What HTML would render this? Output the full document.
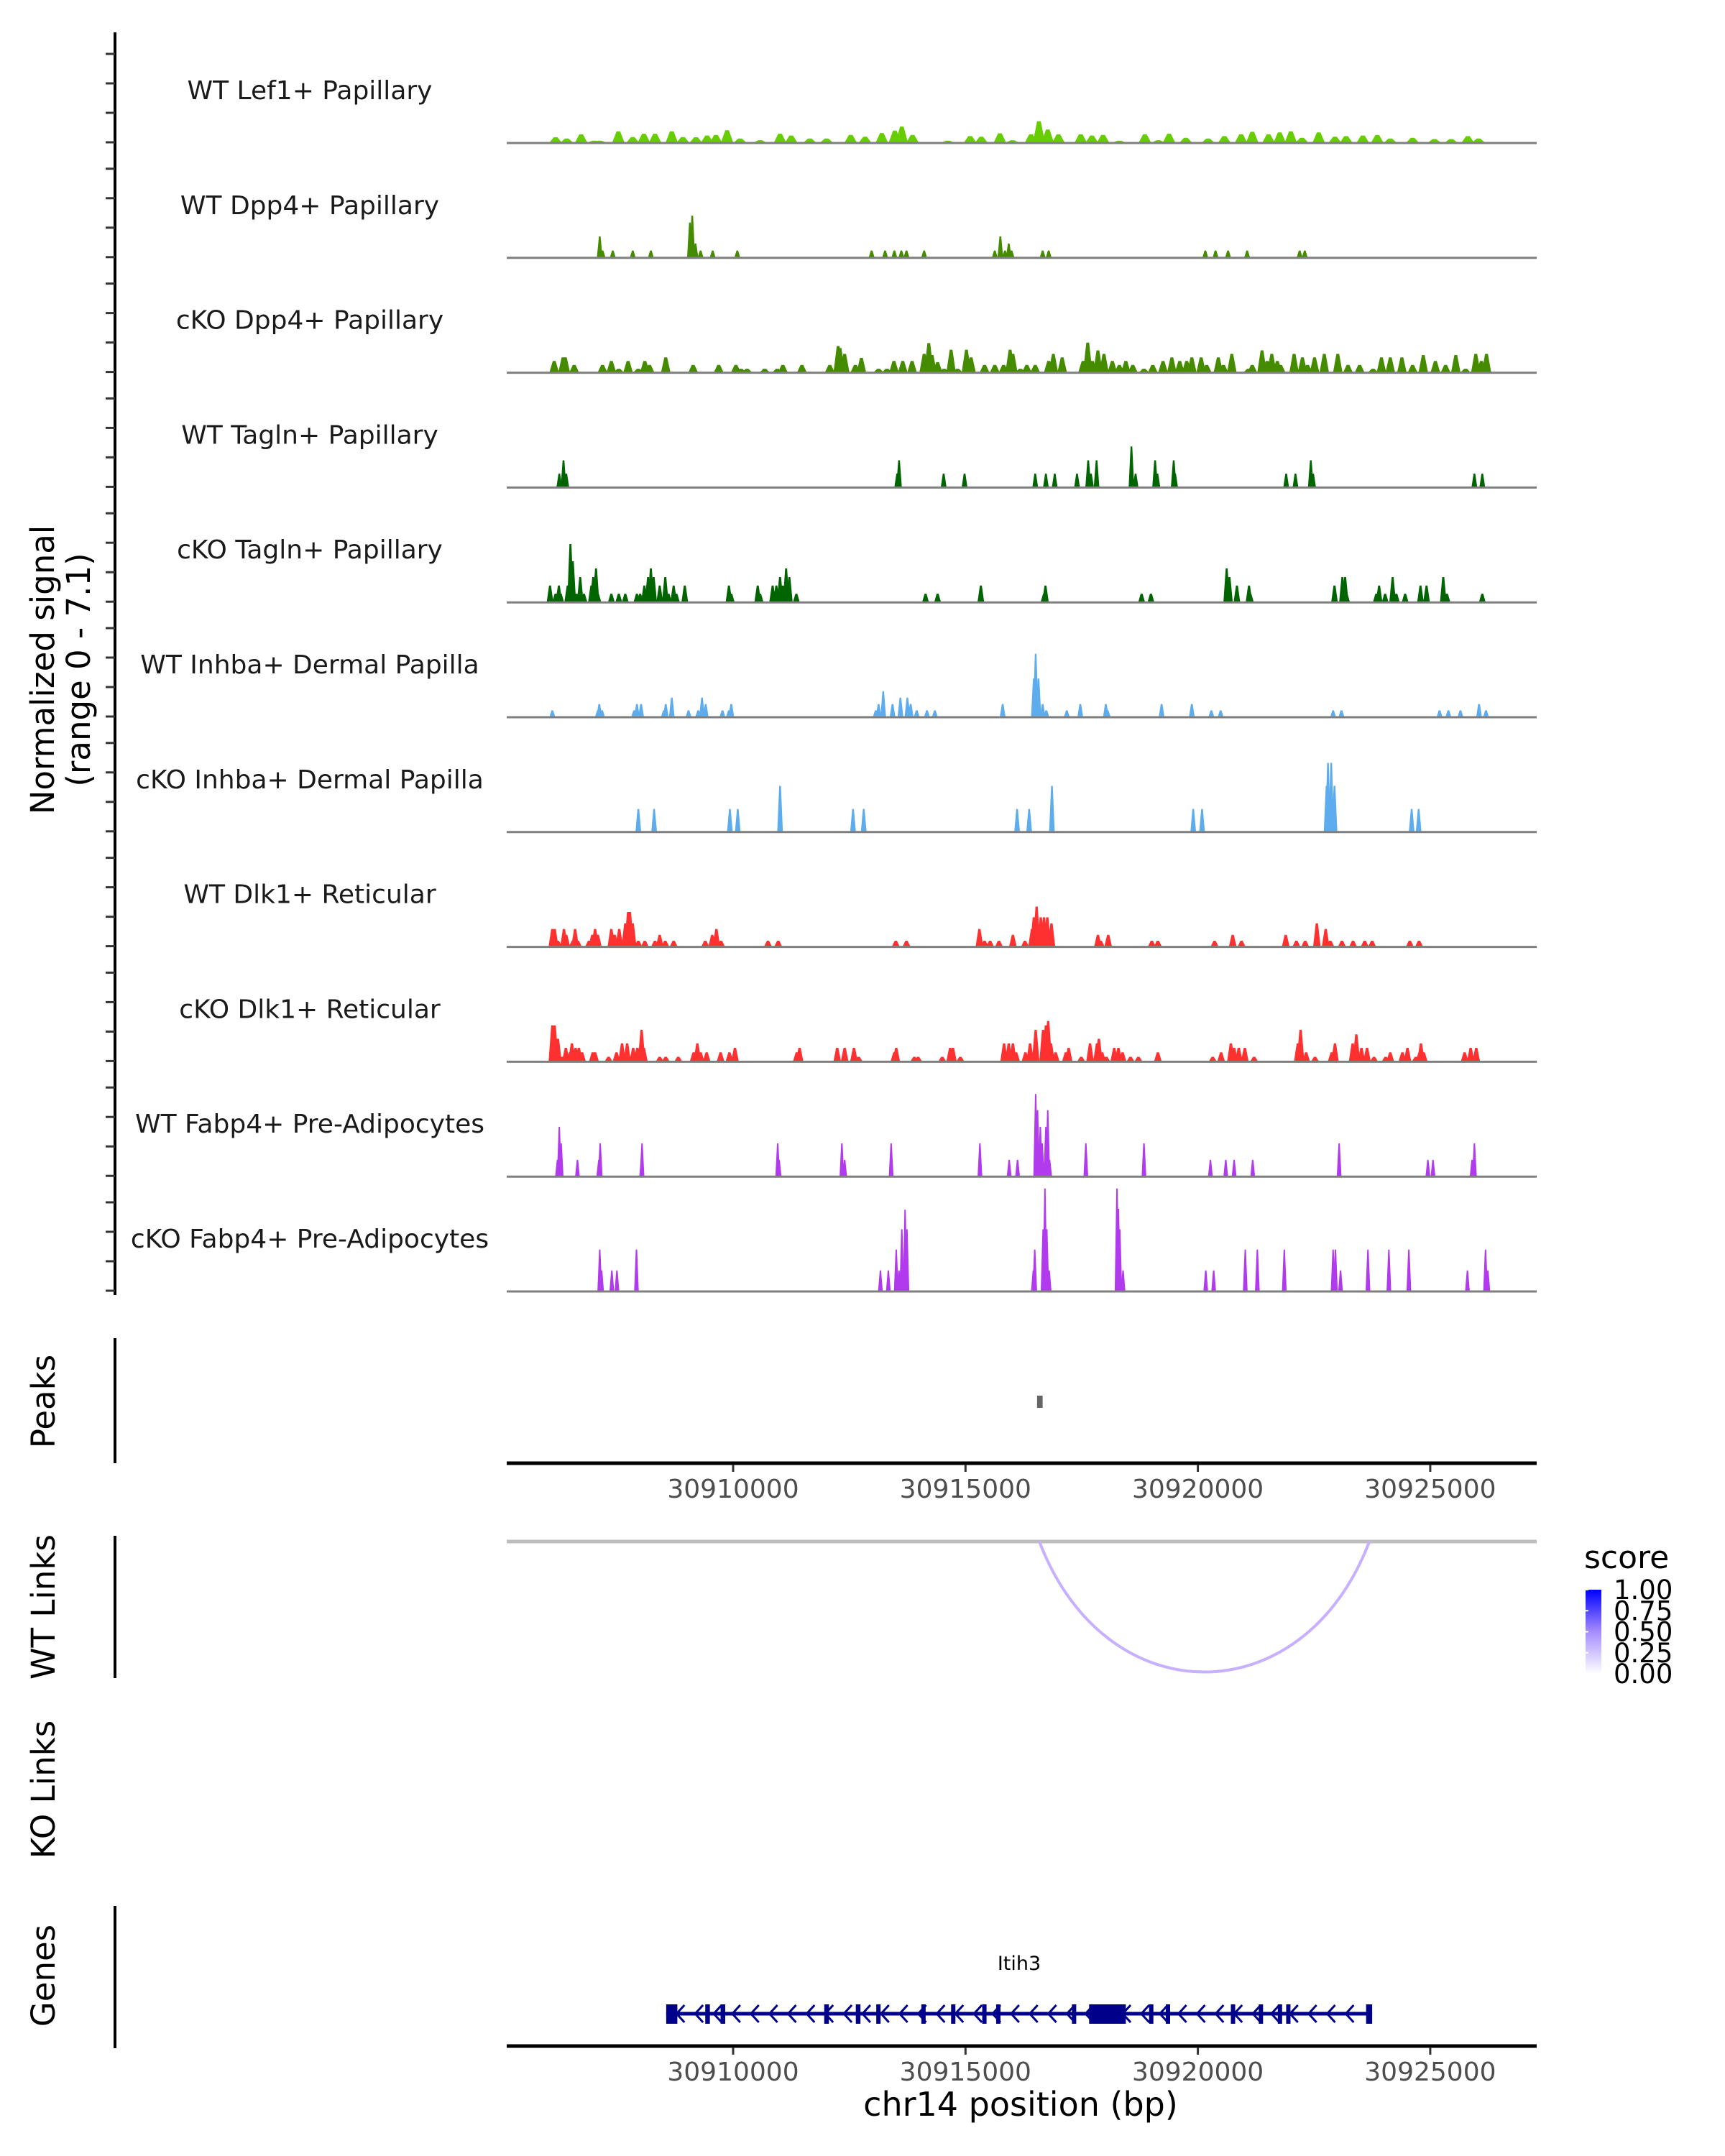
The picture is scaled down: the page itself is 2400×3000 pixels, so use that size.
<!DOCTYPE html>
<html><head><meta charset="utf-8">
<style>
html,body{margin:0;padding:0;background:#fff;}
svg{display:block;font-family:"DejaVu Sans","Liberation Sans",sans-serif;}
</style></head>
<body>
<svg id="chart" width="2400" height="3000" viewBox="0 0 2400 3000" xmlns="http://www.w3.org/2000/svg">
<rect x="0" y="0" width="2400" height="3000" fill="#fff"/>
<g id="tracks"></g>
<g id="axes"></g>
<text x="63" y="932" transform="rotate(-90 63 932)" text-anchor="middle" dominant-baseline="middle" font-size="45" fill="#000">Normalized signal</text>
<text x="113" y="932" transform="rotate(-90 113 932)" text-anchor="middle" dominant-baseline="middle" font-size="45" fill="#000">(range 0 - 7.1)</text>
<text x="64" y="1950" transform="rotate(-90 64 1950)" text-anchor="middle" dominant-baseline="middle" font-size="45" fill="#000">Peaks</text>
<text x="64" y="2236" transform="rotate(-90 64 2236)" text-anchor="middle" dominant-baseline="middle" font-size="45" fill="#000">WT Links</text>
<text x="64" y="2490" transform="rotate(-90 64 2490)" text-anchor="middle" dominant-baseline="middle" font-size="45" fill="#000">KO Links</text>
<text x="64" y="2749" transform="rotate(-90 64 2749)" text-anchor="middle" dominant-baseline="middle" font-size="45" fill="#000">Genes</text>
<text x="1420" y="2944" text-anchor="middle" font-size="46" fill="#000">chr14 position (bp)</text>
<defs><linearGradient id="scoreGrad" x1="0" y1="1" x2="0" y2="0"><stop offset="0" stop-color="#ffffff"/><stop offset="0.5" stop-color="#a58cff"/><stop offset="1" stop-color="#0000ff"/></linearGradient></defs>
<text x="2204" y="2182" font-size="44" fill="#000">score</text>
<rect x="2206" y="2212" width="22" height="117" fill="url(#scoreGrad)"/>
<g id="legend"></g>
</svg>
<script>
// ---------- data (positions in kb offset from chr14:30,900,000; heights in signal units) ----------
const trackNames = ["WT Lef1+ Papillary","WT Dpp4+ Papillary","cKO Dpp4+ Papillary","WT Tagln+ Papillary","cKO Tagln+ Papillary","WT Inhba+ Dermal Papilla","cKO Inhba+ Dermal Papilla","WT Dlk1+ Reticular","cKO Dlk1+ Reticular","WT Fabp4+ Pre-Adipocytes","cKO Fabp4+ Pre-Adipocytes"];
const trackColors = ["#66CD00","#458B00","#458B00","#006400","#006400","#5CACEE","#5CACEE","#FF3030","#FF3030","#B23AEE","#B23AEE"];

const lef1Pos = [6.18,6.42,6.73,7.01,7.13,7.53,7.84,8.08,8.32,8.68,8.92,9.20,9.44,9.63,9.87,10.15,10.58,11.01,11.25,11.65,12.01,12.53,12.84,13.20,13.48,13.63,13.86,14.62,15.10,15.34,15.74,16.01,16.41,16.58,16.77,17.00,17.48,17.72,17.96,18.31,18.86,19.15,19.38,19.74,20.22,20.57,20.93,21.17,21.52,21.76,22.00,22.24,22.60,22.95,23.19,23.55,23.86,24.14,24.62,25.09,25.45,25.81,26.04];
const lef1Ht = [.34,.26,.54,.11,.11,.74,.35,.58,.58,.74,.35,.34,.46,.50,.82,.26,.14,.58,.46,.26,.26,.50,.38,.63,.79,1.07,.50,.11,.42,.38,.61,.14,.54,1.43,.87,.54,.54,.46,.50,.11,.54,.14,.58,.30,.26,.42,.54,.71,.54,.67,.74,.30,.67,.38,.42,.46,.50,.26,.30,.22,.22,.42,.26];

const wtDpp4Pos = [7.13,7.19,7.41,7.84,8.23,9.07,9.12,9.19,9.30,9.56,10.09,12.98,13.27,13.47,13.62,13.73,14.11,15.63,15.75,15.85,15.93,15.99,16.66,16.79,20.16,20.38,20.65,21.06,22.19,22.30];
const wtDpp4Ht = [1.41,.45,.45,.45,.45,2.34,2.82,.93,.45,.45,.45,.45,.45,.45,.45,.45,.45,.45,1.41,.45,.93,.45,.45,.45,.45,.45,.45,.45,.45,.45];

const koDpp4Pos = [6.15,6.34,6.39,6.58,7.19,7.38,7.54,7.74,7.96,8.10,8.20,8.55,9.14,9.69,10.06,10.17,10.30,10.68,10.95,11.07,11.48,12.08,12.26,12.30,12.40,12.63,12.76,13.13,13.31,13.46,13.65,13.85,14.11,14.21,14.28,14.40,14.54,14.69,14.83,15.02,15.12,15.41,15.63,15.82,15.96,16.02,16.18,16.32,16.50,16.79,16.89,17.08,17.53,17.63,17.73,17.85,17.98,18.16,18.31,18.45,18.60,18.84,19.03,19.25,19.44,19.61,19.76,19.87,20.07,20.19,20.44,20.55,20.73,21.09,21.17,21.38,21.49,21.59,21.71,21.78,22.07,22.25,22.36,22.51,22.72,23.01,23.23,23.48,23.77,23.95,24.14,24.39,24.62,24.85,25.11,25.33,25.55,25.76,25.98,26.10,26.21];
const koDpp4Ht = [.75,.99,.99,.48,.48,.75,.22,.75,.22,.75,.48,.99,.48,.48,.48,.22,.22,.22,.22,.48,.48,.48,1.76,1.63,1.23,.48,.96,.22,.22,.75,.75,.75,1.23,1.96,1.15,.67,.22,1.51,.22,1.51,.99,.48,.48,.48,1.51,1.23,.22,.48,.48,.75,1.23,.99,.75,1.99,.75,1.47,1.23,.75,.48,.75,.48,.22,.48,.75,.99,.75,.75,.99,.99,.48,.99,.48,1.23,.22,.48,1.47,.75,1.23,.75,.48,1.23,.99,.48,.99,1.23,1.23,.48,.48,.22,.99,.99,.99,.48,1.15,.75,.48,1.15,.22,1.23,.75,1.23];

const wtTaglnPos = [6.26,6.35,6.41,13.53,13.57,14.53,14.98,16.50,16.73,16.92,17.40,17.64,17.70,17.82,18.57,18.66,19.08,19.13,19.48,19.51,21.90,22.10,22.43,22.48,25.95,26.12];
const wtTaglnHt = [.9,1.8,.9,.9,1.8,.9,.9,.9,.9,.9,.9,1.8,.9,1.8,2.74,.9,1.8,.9,1.8,.9,.9,.9,1.8,.9,.9,.9];

const koTaglnPos = [6.06,6.18,6.25,6.29,6.44,6.50,6.55,6.63,6.71,6.79,6.95,6.99,7.05,7.09,7.38,7.54,7.68,7.93,8.00,8.09,8.17,8.23,8.29,8.42,8.54,8.61,8.72,8.78,8.96,9.91,9.96,10.53,10.58,10.85,10.93,11.01,11.07,11.14,11.21,11.36,14.14,14.40,15.33,16.69,16.72,18.79,18.99,20.62,20.68,20.84,21.10,21.13,22.94,23.11,23.17,23.20,23.84,23.90,24.03,24.19,24.27,24.46,24.79,24.92,25.28,25.36,26.12];
const koTaglnHt = [1.1,.54,1.1,.54,1.1,3.91,2.74,.54,1.67,.54,1.1,1.67,2.26,.54,.54,.54,.54,.54,.54,1.1,1.67,2.26,1.67,1.1,1.67,.54,1.1,.54,1.1,1.1,.54,1.1,.54,1.1,1.1,1.67,1.1,2.26,1.67,.54,.54,.54,1.1,.54,1.1,.54,.54,2.26,1.67,1.1,1.1,.54,1.1,1.67,1.67,.54,.54,1.1,.54,1.67,.54,.54,1.1,1.1,1.67,.54,.54];

const wtInhbaPos = [6.11,7.09,7.12,7.18,7.87,7.93,8.02,8.51,8.55,8.68,9.04,9.25,9.33,9.41,9.77,9.91,9.96,13.07,13.13,13.23,13.43,13.60,13.75,13.82,13.95,14.17,14.34,15.80,16.47,16.51,16.57,16.66,16.74,17.18,17.47,18.02,18.06,19.22,19.87,20.29,20.49,22.91,23.09,25.20,25.39,25.65,26.05,26.20];
const wtInhbaHt = [.42,.42,.85,.42,.42,.85,.85,.42,.85,1.28,.42,.42,1.28,.85,.42,.42,.85,.42,.85,1.71,.85,1.28,1.28,.85,.42,.42,.42,.85,2.58,4.26,2.58,.85,.42,.42,.85,.85,.42,.85,.85,.42,.42,.42,.42,.42,.42,.42,.85,.42];

const koInhbaPos = [7.96,8.30,9.93,10.10,11.01,12.58,12.81,16.11,16.37,16.86,19.90,20.09,22.77,22.80,22.87,22.94,24.60,24.75];
const koInhbaHt = [1.52,1.52,1.52,1.52,3.09,1.52,1.52,1.52,1.52,3.09,1.52,1.52,3.09,4.65,4.65,3.09,1.52,1.52];

const wtDlk1Pos = [6.11,6.16,6.23,6.36,6.41,6.55,6.60,6.66,6.90,6.97,7.03,7.09,7.38,7.45,7.55,7.68,7.74,7.78,7.84,7.96,8.10,8.32,8.42,8.54,8.72,9.40,9.55,9.64,9.74,10.75,10.97,13.50,13.73,15.30,15.41,15.53,15.72,16.02,16.28,16.43,16.47,16.53,16.62,16.69,16.76,16.85,17.85,17.91,18.07,19.01,19.14,20.36,20.75,20.94,21.89,22.12,22.31,22.56,22.75,22.85,23.10,23.34,23.59,23.75,24.56,24.76];
const wtDlk1Ht = [1.17,1.17,.37,1.17,.77,.37,1.17,.37,.37,.77,1.17,.77,1.17,.77,1.17,1.55,2.32,2.32,1.55,.37,.37,.37,.77,.37,.37,.37,.77,1.17,.37,.37,.37,.37,.37,1.17,.37,.37,.37,.77,.37,1.17,1.96,2.69,1.96,1.96,1.96,1.55,.77,.37,.77,.37,.37,.37,.77,.37,.77,.37,.37,1.55,1.17,.37,.37,.37,.37,.37,.37,.37];

const koDlk1Pos = [6.11,6.16,6.23,6.33,6.40,6.49,6.53,6.61,6.68,6.75,6.98,7.03,7.32,7.49,7.61,7.72,7.85,7.94,8.03,8.08,8.42,8.55,8.82,9.15,9.23,9.30,9.43,9.73,9.92,10.04,11.37,11.43,12.24,12.40,12.60,12.70,13.47,13.51,13.90,13.98,14.50,14.67,14.73,14.89,15.83,15.93,16.02,16.09,16.29,16.39,16.51,16.67,16.73,16.78,16.84,16.94,17.16,17.22,17.49,17.68,17.83,17.87,17.94,18.03,18.20,18.29,18.38,18.55,18.72,19.14,20.32,20.50,20.71,20.78,20.88,21.01,21.21,22.15,22.21,22.33,22.52,22.88,22.95,23.33,23.41,23.52,23.64,23.79,24.04,24.14,24.40,24.51,24.69,24.77,24.80,24.86,25.74,25.87,25.99];
const koDlk1Ht = [2.42,2.42,1.51,.29,.90,.59,1.20,.90,.90,.59,.59,.59,.29,.59,1.20,1.20,.90,.90,2.12,.90,.29,.29,.29,.59,1.20,.59,.59,.59,.59,.90,.59,.90,.90,.90,.90,.29,.59,.90,.29,.29,.29,.90,.90,.29,1.20,1.20,1.20,.59,.59,1.20,2.12,2.12,2.42,2.72,1.20,.59,.59,.90,.29,1.20,1.20,1.51,.59,.29,.90,.90,.59,.29,.29,.59,.29,.59,1.20,.90,.90,.90,.29,1.20,2.12,.59,.29,.59,1.20,1.20,1.81,.90,.90,.29,.29,.59,.59,.90,.29,.59,1.20,.59,.59,.90,.90];

const wtFabp4Pos = [6.22,6.26,6.30,6.65,7.11,7.14,8.03,8.04,10.96,10.99,12.34,12.40,13.40,15.31,15.94,16.12,16.51,16.55,16.61,16.65,16.73,16.77,16.81,17.59,18.84,20.27,20.60,20.78,21.18,23.04,24.95,25.06,25.90,25.95];
const wtFabp4Ht = [1.09,3.33,2.21,1.09,1.09,2.21,1.09,2.21,2.21,1.09,2.21,1.09,2.21,2.21,1.09,1.09,5.56,4.46,3.33,2.21,3.33,4.46,1.09,2.21,2.21,1.09,1.09,1.09,1.09,2.21,1.09,1.09,1.09,2.21];

const koFabp4Pos = [7.13,7.17,7.39,7.50,7.92,13.17,13.34,13.51,13.57,13.63,13.70,13.74,16.46,16.49,16.67,16.71,16.75,16.80,18.26,18.29,18.32,18.39,20.17,20.34,21.02,21.28,21.86,22.91,22.96,23.07,23.66,24.11,24.54,25.80,26.19,26.24];
const koFabp4Ht = [2.79,1.38,1.38,1.38,2.79,1.38,1.38,2.79,1.38,4.17,5.5,4.17,1.38,2.79,4.17,6.94,4.17,1.38,6.94,5.56,4.17,1.38,1.38,1.38,2.79,2.79,2.79,2.79,2.79,1.38,2.79,2.79,2.79,1.38,2.79,1.38];

const trackPos = [lef1Pos,wtDpp4Pos,koDpp4Pos,wtTaglnPos,koTaglnPos,wtInhbaPos,koInhbaPos,wtDlk1Pos,koDlk1Pos,wtFabp4Pos,koFabp4Pos];
const trackHt = [lef1Ht,wtDpp4Ht,koDpp4Ht,wtTaglnHt,koTaglnHt,wtInhbaHt,koInhbaHt,wtDlk1Ht,koDlk1Ht,wtFabp4Ht,koFabp4Ht];
const trackWidth = [0.13,0.06,0.10,0.06,0.07,0.06,0.06,0.08,0.08,0.05,0.05];

const xTickValues = [30910000,30915000,30920000,30925000];
const peakStarts = [16.54];
const peakEnds = [16.66];
const linkStart = [16.59];
const linkEnd = [23.69];
const linkScore = [0.25];
const geneStart = 8.56, geneEnd = 23.75;
const exonStart = [8.56,9.40,9.73,11.96,12.64,13.08,14.05,14.69,15.36,15.66,17.29,17.66,18.95,19.31,20.71,21.31,21.72,21.90,23.62];
const exonEnd = [8.80,9.50,9.83,12.06,12.74,13.12,14.12,14.77,15.44,15.74,17.37,18.45,19.03,19.39,20.79,21.39,21.78,21.98,23.75];
const legendValues = [1.00,0.75,0.50,0.25,0.00];

// ---------- scales ----------
const X0 = 705, X1 = 2138;
function xScale(kb){ return 1020 + (kb - 10) * 64.66; }
function xFromBp(bp){ return xScale((bp - 30900000)/1000); }
const UNIT = 20.5;
function baseY(i){ return 198 + 159.8*i; }
function yScale(i, v){ return baseY(i) - v*UNIT; }

const NS = "http://www.w3.org/2000/svg";
function mk(tag, attrs, parent){
  const e = document.createElementNS(NS, tag);
  for (const k in attrs) e.setAttribute(k, attrs[k]);
  parent.appendChild(e); return e;
}
const tracks = document.getElementById('tracks');
const axes = document.getElementById('axes');

// signal tracks
trackNames.forEach((name, i) => {
  const g = mk('g', {}, tracks);
  
  
  const lbl = mk('text', {x: 431, y: baseY(i) - 60, 'text-anchor': 'middle', 'font-size': 36, fill: '#1a1a1a'}, g);
  lbl.textContent = name;
  
  
  const pos = trackPos[i], ht = trackHt[i], w = trackWidth[i];
  pos.forEach((p, j) => {
    const b = baseY(i), t = yScale(i, ht[j]);
    const pts = [[xScale(p - w), b], [xScale(p - w*0.3), t], [xScale(p + w*0.3), t], [xScale(p + w), b]].map(q => q[0].toFixed(1)+','+q[1].toFixed(1)).join(' ');
    const poly = mk('polygon', {points: pts, fill: trackColors[i]}, g);
    
    
  });
  const bl = mk('line', {x1: X0, x2: X1, y1: baseY(i) + 1, y2: baseY(i) + 1, stroke: '#7f7f7f', 'stroke-width': 3}, g);
  
  
});

// left signal axis
const yAxis = mk('line', {x1: 160, x2: 160, y1: 45, y2: 1802, stroke: '#000', 'stroke-width': 4}, axes);


for (let i = 0; i < trackNames.length; i++) {
  for (let k = 0; k < 4; k++) {
    const y = yScale(i, k*2);
    const t = mk('line', {x1: 147, x2: 160, y1: y, y2: y, stroke: '#333', 'stroke-width': 3}, axes);
    
    
  }
}
// section axes
[[1862,2036,'peaks-axis-line'],[2137,2335,'wt-links-axis-line'],[2652,2850,'genes-axis-line']].forEach(s => {
  const l = mk('line', {x1: 160, x2: 160, y1: s[0], y2: s[1], stroke: '#000', 'stroke-width': 4}, axes);
  
  
});

// peaks
peakStarts.forEach((s, i) => {
  const r = mk('rect', {x: xScale(s), y: 1942, width: xScale(peakEnds[i]) - xScale(s), height: 17, fill: '#666'}, axes);
  
  
});

// x axes
[[2036,2072,'peaks-x-axis'],[2847,2883,'genes-x-axis']].forEach(a => {
  const l = mk('line', {x1: X0, x2: X1, y1: a[0], y2: a[0], stroke: '#000', 'stroke-width': 5}, axes);
  
  
  xTickValues.forEach(v => {
    const x = xFromBp(v);
    const t = mk('line', {x1: x, x2: x, y1: a[0] + 2, y2: a[0] + 12, stroke: '#333', 'stroke-width': 3}, axes);
    
    
    const tl = mk('text', {x: x, y: a[1] + 12, 'text-anchor': 'middle', 'font-size': 36, fill: '#4d4d4d'}, axes);
    tl.textContent = String(v);
    
    
  });
});

// links
const lb = mk('line', {x1: X0, x2: X1, y1: 2145, y2: 2145, stroke: '#bebebe', 'stroke-width': 5}, axes);


linkStart.forEach((s, i) => {
  const xa = xScale(s), xb = xScale(linkEnd[i]);
  const depth = 182;
  const p = mk('path', {d: `M${xa},2145 C${xa + (xb-xa)*0.2},${2145 + depth*1.33} ${xb - (xb-xa)*0.2},${2145 + depth*1.33} ${xb},2145`, fill: 'none', stroke: '#c6b0ff', 'stroke-width': 4}, axes);
  
  
});

// gene model
const geneY = 2802;
const gl = mk('line', {x1: xScale(geneStart), x2: xScale(geneEnd), y1: geneY, y2: geneY, stroke: '#00008B', 'stroke-width': 5}, axes);


for (let kb = geneStart + 0.3; kb < geneEnd - 0.2; kb += 0.4) {
  const x = xScale(kb);
  const c = mk('polyline', {points: `${x+6},${geneY-12} ${x-5},${geneY} ${x+6},${geneY+12}`, fill: 'none', stroke: '#00008B', 'stroke-width': 3}, axes);
  
  
}
exonStart.forEach((s, i) => {
  const r = mk('rect', {x: xScale(s), y: geneY - 13, width: Math.max(6, xScale(exonEnd[i]) - xScale(s)), height: 27, fill: '#00008B'}, axes);
  
  
});
const gn = mk('text', {x: 1418, y: 2741, 'text-anchor': 'middle', 'font-size': 27, fill: '#000'}, axes);
gn.textContent = 'Itih3';



// legend labels
const legend = document.getElementById('legend');
legendValues.forEach((v, i) => {
  const y = 2329 - v*117;
  const t = mk('text', {x: 2245, y: y + 13, 'font-size': 37, fill: '#000'}, legend);
  t.textContent = v.toFixed(2);
  
  
  const tk = mk('line', {x1: 2206, x2: 2210, y1: y, y2: y, stroke: '#fff', 'stroke-width': 2}, legend);
  
  
});
</script>
</body></html>
